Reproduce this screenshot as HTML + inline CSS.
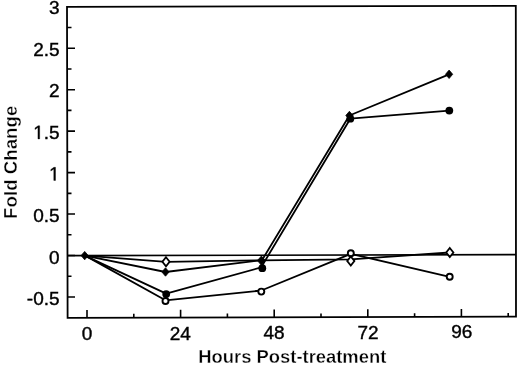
<!DOCTYPE html><html><head><meta charset="utf-8"><style>html,body{margin:0;padding:0;background:#fff;width:520px;height:366px;overflow:hidden}svg{display:block;filter:grayscale(1)}text{font-family:"Liberation Sans",sans-serif;fill:#000}</style></head><body>
<svg width="520" height="366" viewBox="0 0 520 366">
<path d="M67,6.8 L515.8,5.8 L516,316.7 L67.6,317.8 Z" fill="none" stroke="#000" stroke-width="1.8" stroke-linejoin="miter"/>
<path d="M67.3,27.53 H71.5 M67.3,48.25 H75.0 M67.3,68.98 H71.5 M67.3,89.70 H75.0 M67.3,110.42 H71.5 M67.3,131.15 H75.0 M67.3,151.88 H71.5 M67.3,172.60 H75.0 M67.3,193.33 H71.5 M67.3,214.05 H75.0 M67.3,234.78 H71.5 M67.3,255.50 H75.0 M67.3,276.23 H71.5 M67.3,296.95 H75.0 M87.00,317.75 V309.95 M133.80,317.64 V313.84 M180.60,317.52 V309.72 M227.40,317.41 V313.61 M274.20,317.29 V309.49 M321.00,317.18 V313.38 M367.80,317.06 V309.26 M414.60,316.95 V313.15 M461.40,316.83 V309.03 M508.20,316.72 V312.92" stroke="#000" stroke-width="1.6" fill="none"/>
<path d="M67,255.7 L516,254.6" stroke="#000" stroke-width="1.7"/>
<path d="M84.7,255.6 L165.5,272.0 L262.0,260.2 L349.4,115.5 L449.1,74.3" stroke="#000" stroke-width="1.80" fill="none" stroke-linejoin="round"/>
<path d="M84.7,255.6 L166.2,293.6 L262.0,267.2 L260.6,268.2 L350.3,118.7 L449.3,110.6" stroke="#000" stroke-width="1.80" fill="none" stroke-linejoin="round"/>
<path d="M84.7,255.6 L166.0,261.8 L261.5,260.3 L350.8,259.3 L449.8,252.5" stroke="#000" stroke-width="1.80" fill="none" stroke-linejoin="round"/>
<path d="M84.7,255.4 L165.5,300.3 L261.3,290.5 L350.8,253.8 L449.7,276.8" stroke="#000" stroke-width="1.80" fill="none" stroke-linejoin="round"/>
<circle cx="165.5" cy="301.0" r="3.0" fill="#fff" stroke="#000" stroke-width="1.9"/>
<circle cx="261.3" cy="291.6" r="3.0" fill="#fff" stroke="#000" stroke-width="1.9"/>
<circle cx="350.8" cy="253.3" r="3.0" fill="#fff" stroke="#000" stroke-width="1.9"/>
<circle cx="449.7" cy="276.8" r="3.0" fill="#fff" stroke="#000" stroke-width="1.9"/>
<path d="M166.0,257.3 L169.6,261.8 L166.0,266.3 L162.4,261.8 Z" fill="#fff" stroke="#000" stroke-width="1.8"/>
<path d="M350.8,256.5 L354.4,261.0 L350.8,265.5 L347.2,261.0 Z" fill="#fff" stroke="#000" stroke-width="1.8"/>
<path d="M449.8,248.0 L453.4,252.5 L449.8,257.0 L446.2,252.5 Z" fill="#fff" stroke="#000" stroke-width="1.8"/>
<circle cx="166.2" cy="294.1" r="3.9" fill="#000"/>
<circle cx="262.3" cy="268.2" r="3.9" fill="#000"/>
<circle cx="350.3" cy="118.7" r="3.9" fill="#000"/>
<circle cx="449.3" cy="110.6" r="3.9" fill="#000"/>
<path d="M84.7,251.4 L88.3,255.6 L84.7,259.8 L81.1,255.6 Z" fill="#000" stroke="#000" stroke-width="0.8"/>
<path d="M165.5,267.8 L169.1,272.0 L165.5,276.2 L161.9,272.0 Z" fill="#000" stroke="#000" stroke-width="0.8"/>
<path d="M261.4,256.0 L265.4,260.6 L261.4,265.2 L257.4,260.6 Z" fill="#000" stroke="#000" stroke-width="0.8"/>
<path d="M349.4,111.3 L353.0,115.5 L349.4,119.7 L345.8,115.5 Z" fill="#000" stroke="#000" stroke-width="0.8"/>
<path d="M449.1,70.1 L452.7,74.3 L449.1,78.5 L445.5,74.3 Z" fill="#000" stroke="#000" stroke-width="0.8"/>
<text x="59.6" y="14.3" font-size="19" text-anchor="end" stroke="#000" stroke-width="0.40">3</text>
<text x="59.6" y="55.8" font-size="19" text-anchor="end" stroke="#000" stroke-width="0.40">2.5</text>
<text x="59.6" y="97.4" font-size="19" text-anchor="end" stroke="#000" stroke-width="0.40">2</text>
<path transform="translate(33.19,138.89) scale(0.009277,-0.009277)" d="M515,0 L515,1237 L197,1010 L197,1180 L530,1409 L696,1409 L696,0 Z" fill="#000" stroke="#000" stroke-width="43.1"/>
<text x="59.6" y="138.9" font-size="19" text-anchor="end" stroke="#000" stroke-width="0.40">.5</text>
<path transform="translate(49.03,180.42) scale(0.009277,-0.009277)" d="M515,0 L515,1237 L197,1010 L197,1180 L530,1409 L696,1409 L696,0 Z" fill="#000" stroke="#000" stroke-width="43.1"/>
<text x="59.6" y="222.0" font-size="19" text-anchor="end" stroke="#000" stroke-width="0.40">0.5</text>
<text x="59.6" y="263.5" font-size="19" text-anchor="end" stroke="#000" stroke-width="0.40">0</text>
<text x="59.6" y="305.0" font-size="19" text-anchor="end" stroke="#000" stroke-width="0.40">-0.5</text>
<text x="87.0" y="339.6" font-size="19" text-anchor="middle" stroke="#000" stroke-width="0.40">0</text>
<text x="180.2" y="339.6" font-size="19" text-anchor="middle" stroke="#000" stroke-width="0.40">24</text>
<text x="274.1" y="338.9" font-size="19" text-anchor="middle" stroke="#000" stroke-width="0.40">48</text>
<text x="368.1" y="338.7" font-size="19" text-anchor="middle" stroke="#000" stroke-width="0.40">72</text>
<text x="461.8" y="338.4" font-size="19" text-anchor="middle" stroke="#000" stroke-width="0.40">96</text>
<text x="292.3" y="363.3" font-size="18.4" font-weight="bold" text-anchor="middle" stroke="#fff" stroke-width="0.35">Hours Post-treatment</text>
<text transform="translate(17,162.3) rotate(-90)" x="0" y="0" font-size="18.7" font-weight="bold" text-anchor="middle" stroke="#fff" stroke-width="0.35">Fold Change</text>
</svg></body></html>
